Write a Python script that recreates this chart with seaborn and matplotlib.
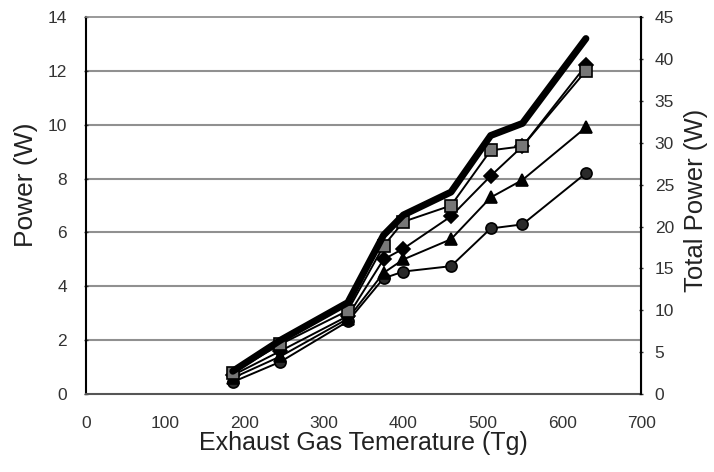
import matplotlib
matplotlib.use("Agg")
import matplotlib.pyplot as plt
import seaborn as sns
import pandas as pd

sns.set_style("white")
plt.rcParams['font.family'] = ['Liberation Sans', 'DejaVu Sans']

temps = [185, 245, 330, 375, 400, 460, 510, 550, 630]
total_power = [0.85, 2.0, 3.4, 5.9, 6.65, 7.5, 9.6, 10.05, 13.2]
series_square = [0.8, 1.85, 3.1, 5.5, 6.4, 7.0, 9.05, 9.2, 12.0]
series_diamond = [0.7, 1.6, 2.9, 5.0, 5.4, 6.6, 8.1, 9.2, 12.2]
series_triangle = [0.6, 1.4, 2.8, 4.5, 5.0, 5.75, 7.3, 7.95, 9.9]
series_circle = [0.45, 1.2, 2.7, 4.3, 4.55, 4.75, 6.15, 6.3, 8.2]

x_ticks = [0, 100, 200, 300, 400, 500, 600, 700]
left_ticks = [0, 2, 4, 6, 8, 10, 12, 14]
right_ticks = [0, 5, 10, 15, 20, 25, 30, 35, 40, 45]

fig = plt.figure(figsize=(7.14, 4.72), dpi=100)
ax = fig.add_axes([0.1204, 0.165, 0.778, 0.799])

for yy in left_ticks[1:-1]:
    ax.axhline(yy, color="#909090", lw=1.5, zorder=0)

df = pd.DataFrame({"T": temps})
styles = [
    (series_circle, "o", "#2a2a2a"),
    (series_triangle, "^", "black"),
    (series_diamond, "D", "black"),
    (series_square, "s", "#777777"),
]
for vals, mk, fc in styles:
    d = df.assign(P=vals)
    sns.lineplot(data=d, x="T", y="P", ax=ax, color="black", lw=1.4,
                 marker=mk, markersize=8 if mk != "D" else 7,
                 markerfacecolor=fc, markeredgecolor="black", markeredgewidth=1.2,
                 zorder=3)
d = df.assign(P=total_power)
sns.lineplot(data=d, x="T", y="P", ax=ax, color="black", lw=5, zorder=4)

ax.set_xlim(0, 700)
ax.set_ylim(0, 14)
ax.set_xticks(x_ticks)
ax.set_yticks(left_ticks)
ax.set_xlabel("Exhaust Gas Temerature (Tg)", fontsize=18, color="#222222", labelpad=0)
ax.set_ylabel("Power (W)", fontsize=19, color="#222222", labelpad=7)
ax.yaxis.label.set_y(0.554)
ax.tick_params(axis="both", labelsize=12.5, colors="#333333", length=3, width=1,
               direction="inout")
ax.tick_params(axis="x", pad=14)
ax.tick_params(axis="y", pad=12)

ax.spines["left"].set_color("black")
ax.spines["left"].set_linewidth(1.5)
ax.spines["top"].set_color("#888888")
ax.spines["top"].set_linestyle((0, (1, 1)))
ax.spines["top"].set_linewidth(1.2)
ax.spines["bottom"].set_color("#555555")
ax.spines["bottom"].set_linestyle((0, (2, 1)))
ax.spines["bottom"].set_linewidth(1.5)

ax2 = ax.twinx()
ax2.set_ylim(0, 45)
ax2.set_yticks(right_ticks)
ax2.set_ylabel("Total Power (W)", fontsize=18.5, color="#222222", labelpad=7)
ax2.yaxis.label.set_y(0.515)
ax2.tick_params(axis="y", labelsize=12.5, colors="#333333", length=3, width=1,
                direction="inout", pad=8)
ax2.spines["right"].set_color("black")
ax2.spines["right"].set_linewidth(1.5)
for s in ["top", "bottom", "left"]:
    ax2.spines[s].set_visible(False)

fig.savefig("out.png", dpi=100)
